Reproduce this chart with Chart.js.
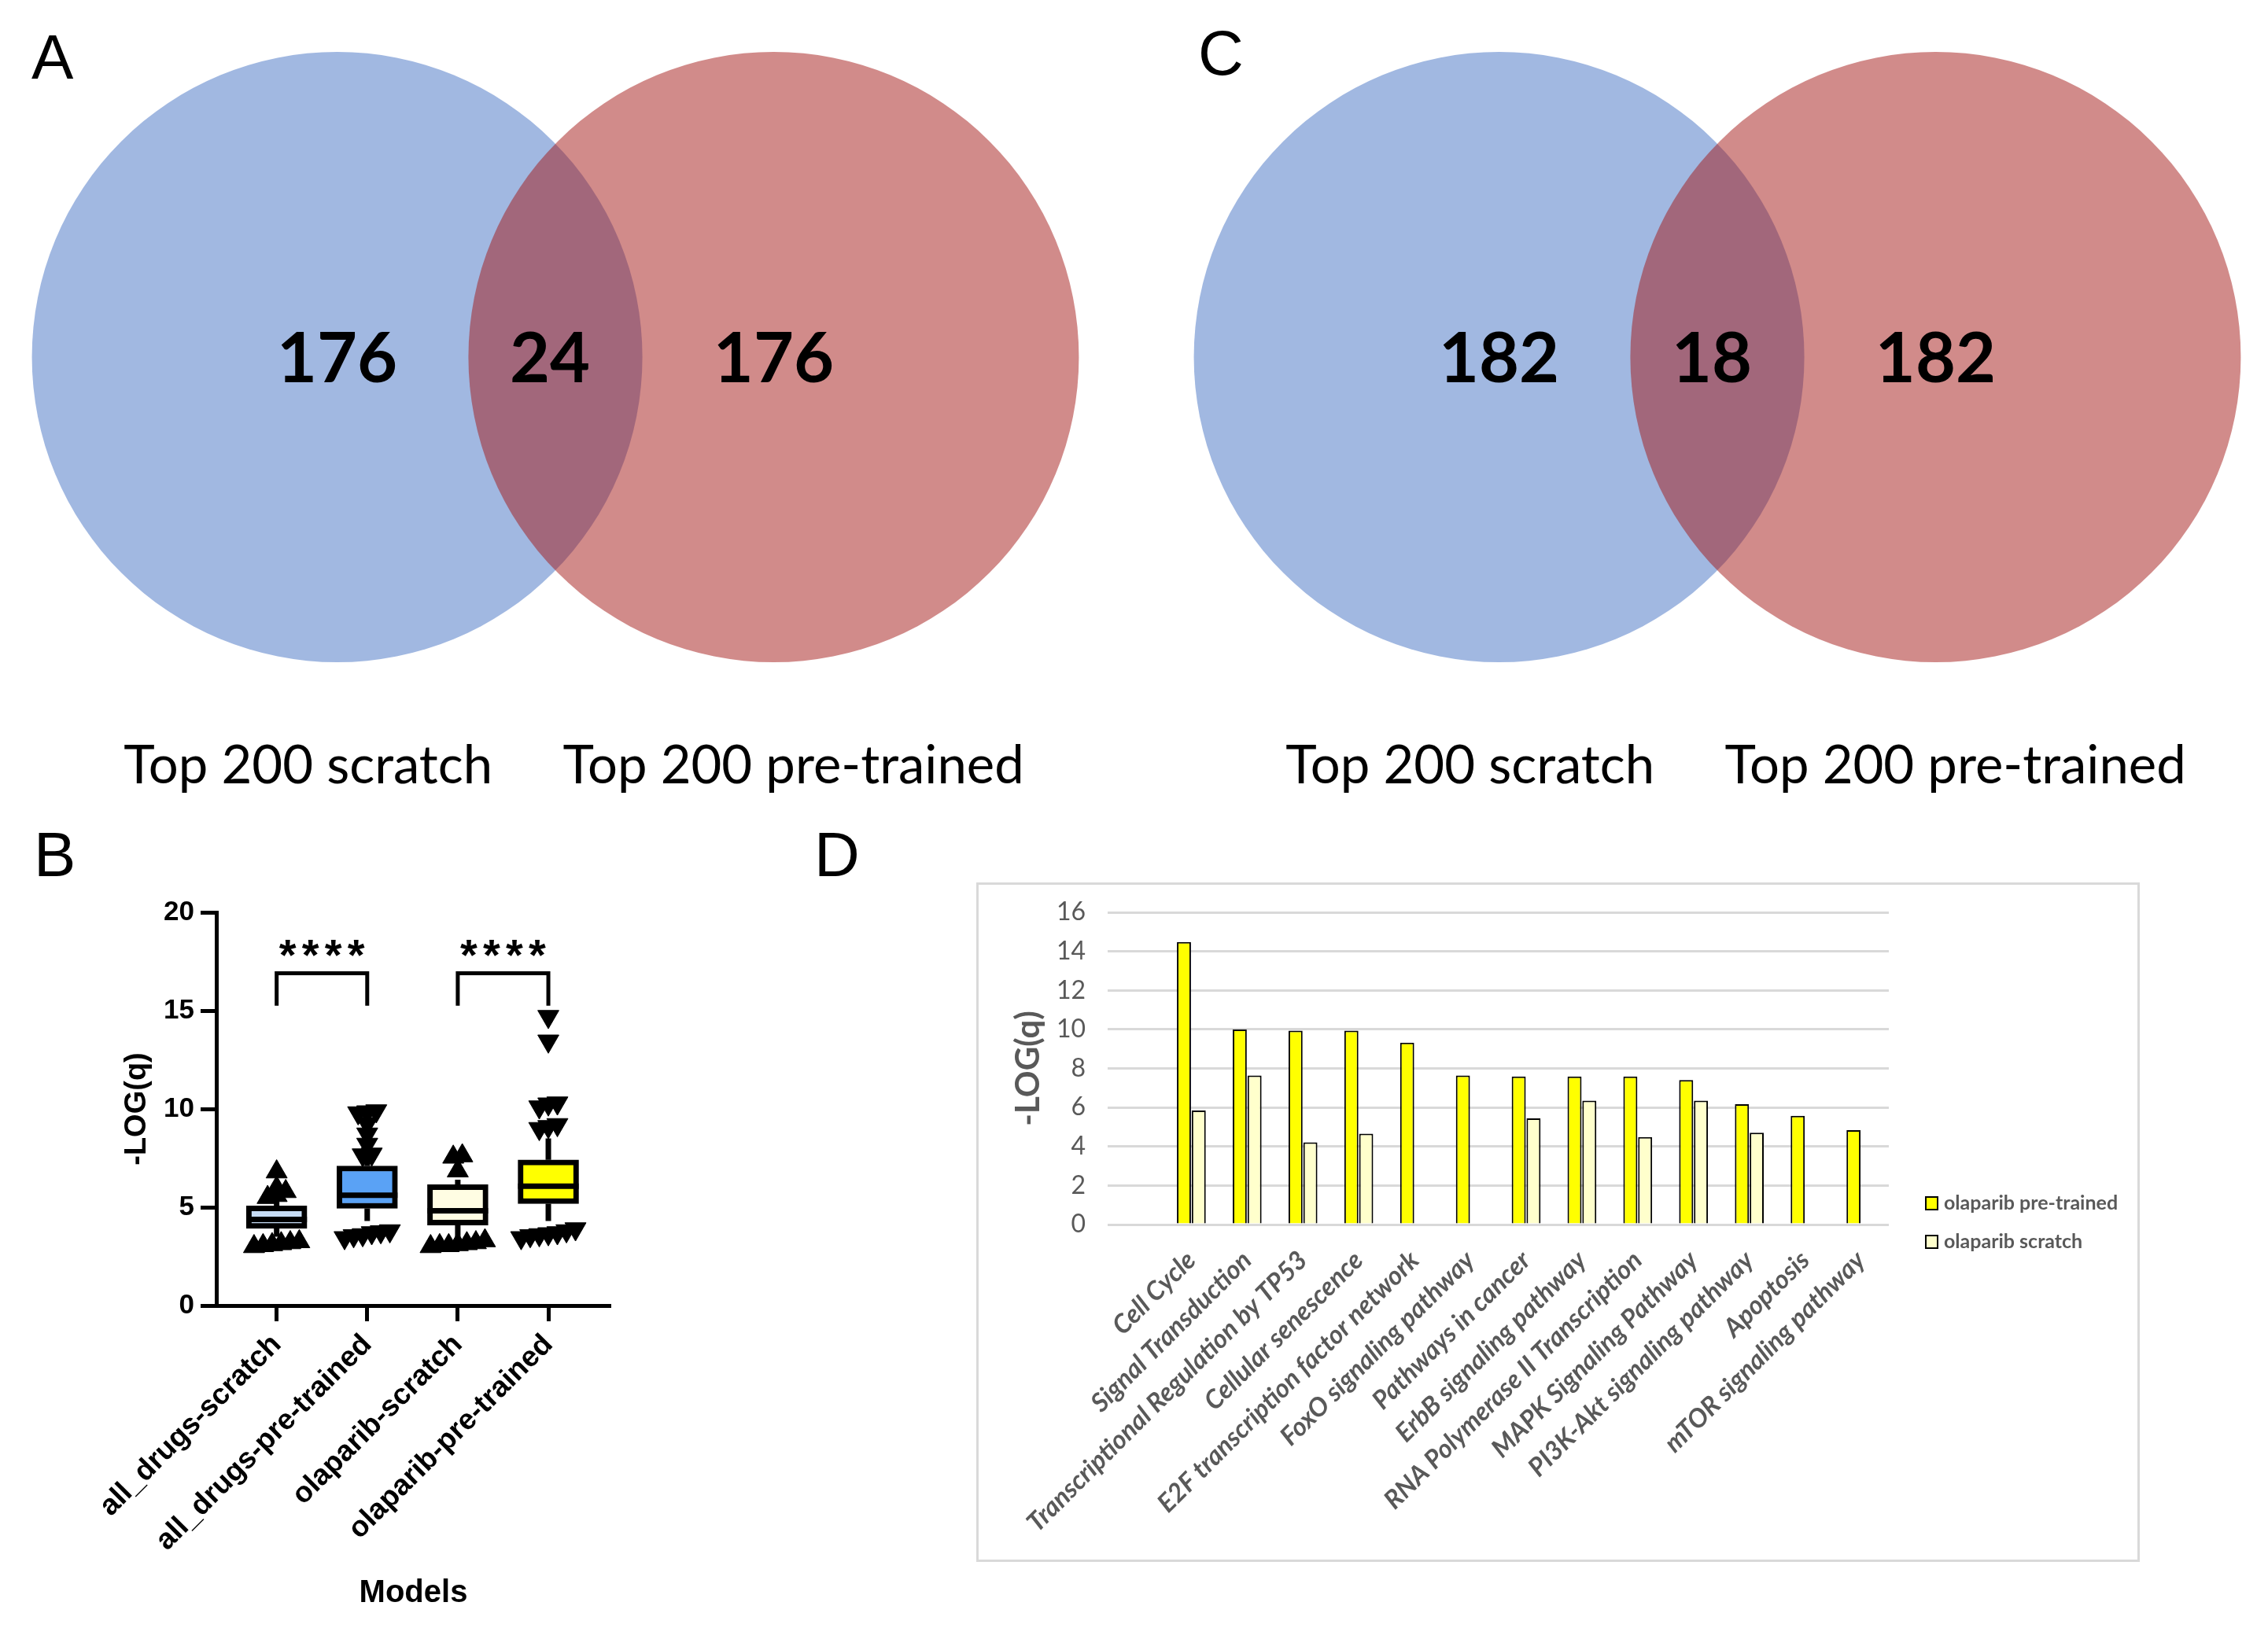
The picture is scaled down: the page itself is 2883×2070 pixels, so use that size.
<!DOCTYPE html>
<html>
<head>
<meta charset="utf-8">
<script src="https://cdn.jsdelivr.net/npm/chart.js@4.4.1/dist/chart.umd.min.js"></script>
<style>
  html, body { margin: 0; padding: 0; background: #fff; width: 2883px; height: 2070px; overflow: hidden; }
  .panel { position: absolute; }
  .tag { position: absolute; font-family: 'Liberation Sans', Arial, sans-serif; font-size: 80px; line-height: 80px; color: #000; }
  #frameD { position: absolute; left: 1241px; top: 1122px; width: 1479px; height: 864px; border: 3px solid #d9d9d9; box-sizing: border-box; }
  #frameD .inner { position: absolute; left: 0; top: 0; width: 1473px; height: 858px; }
</style>
</head>
<body>
<div class="tag" style="left:40px; top:33px">A</div>
<div class="tag" style="left:43px; top:1047px">B</div>
<div class="tag" style="left:1523px; top:28px">C</div>
<div class="tag" style="left:1035px; top:1047px">D</div>

<div class="panel" style="left:0; top:0; width:1420px; height:1060px"><canvas id="vennA"></canvas></div>
<div class="panel" style="left:1460px; top:0; width:1423px; height:1060px"><canvas id="vennC"></canvas></div>
<div class="panel" style="left:0; top:1100px; width:830px; height:970px"><canvas id="boxB"></canvas></div>
<div id="frameD"><div class="inner"><canvas id="barD"></canvas></div></div>

<script>
// ---- Venn diagrams (A, C) ----
const vennSets = ['Top 200 scratch', 'Top 200 pre-trained'];
const vennCountsA = [176, 24, 176];   // scratch only, both, pre-trained only
const vennCountsC = [182, 18, 182];
const vennCentres = [-0.715, 0.715];  // circle centres, in circle radii
const vennRadius = 1;

// ---- Box plot (B) ----
const models = ['all_drugs-scratch', 'all_drugs-pre-trained', 'olaparib-scratch', 'olaparib-pre-trained'];
const whiskerLo = [3.5, 4.3, 3.5, 4.3];
const q1 = [3.92, 4.94, 4.09, 5.18];
const medians = [4.38, 5.61, 4.82, 6.07];
const q3 = [5.07, 7.10, 6.15, 7.41];
const whiskerHi = [5.4, 7.6, 6.4, 8.5];
const outliersHigh = [
    [5.5, 5.6, 5.8, 5.98, 6.8],
    [7.66, 7.7, 8.2, 8.72, 9.25, 9.8, 9.85, 9.9],
    [6.85, 7.55, 7.62],
    [9.0, 9.1, 9.2, 10.1, 10.25, 10.3, 13.45, 14.7]
];
const outliersLow = [
    [3.0, 3.05, 3.1, 3.15, 3.2, 3.25],
    [3.45, 3.55, 3.6, 3.7, 3.75, 3.8],
    [3.0, 3.05, 3.05, 3.1, 3.15, 3.2, 3.3],
    [3.45, 3.55, 3.6, 3.65, 3.7, 3.8, 3.9]
];
const significance = [
    { pair: [0, 1], label: '****' },
    { pair: [2, 3], label: '****' }
];

// ---- Pathway bars (D) ----
const pathways = ['Cell Cycle', 'Signal Transduction', 'Transcriptional Regulation by TP53', 'Cellular senescence',
    'E2F transcription factor network', 'FoxO signaling pathway', 'Pathways in cancer', 'ErbB signaling pathway',
    'RNA Polymerase II Transcription', 'MAPK Signaling Pathway', 'PI3K-Akt signaling pathway', 'Apoptosis',
    'mTOR signaling pathway'];
const olaparibPretrained = [14.48, 9.99, 9.93, 9.93, 9.32, 7.64, 7.59, 7.59, 7.59, 7.41, 6.17, 5.57, 4.84];
const olaparibScratch = [5.84, 7.64, 4.21, 4.65, null, null, 5.44, 6.35, 4.48, 6.35, 4.71, null, null];

const boxFill = ['#c6dcf5', '#5aa2f5', '#fffde3', '#ffff00'];

// ---------- Venn ----------
const vennText = {
    id: 'vennText',
    afterDatasetsDraw(chart, args, opts) {
        const { ctx, scales: { x, y } } = chart;
        const mid = (vennCentres[0] + vennCentres[1]) / 2 - 0.018;
        const spots = [vennCentres[0], mid, vennCentres[1]];
        ctx.save();
        ctx.fillStyle = '#000';
        ctx.textAlign = 'center';
        ctx.textBaseline = 'middle';
        ctx.font = 'bold 88px Lato';
        opts.counts.forEach((c, i) => ctx.fillText(String(c), x.getPixelForValue(spots[i]), y.getPixelForValue(0) + 4));
        ctx.font = '67px Lato';
        vennSets.forEach((s, i) => ctx.fillText(s, x.getPixelForValue(opts.labelX[i]), y.getPixelForValue(-1.34)));
        ctx.restore();
    }
};

function makeVenn(id, counts, width, height, midPx) {
    const unit = 388, cy = 454;
    return new Chart(document.getElementById(id), {
        type: 'scatter',
        data: {
            datasets: [{
                data: vennCentres.map(c => ({ x: c, y: 0 })),
                backgroundColor: ['rgba(68,114,196,0.5)', 'rgba(163,23,21,0.5)'],
                borderWidth: 0,
                pointRadius: ctx => {
                    const s = ctx.chart.scales.x;
                    return s.getPixelForValue(vennRadius) - s.getPixelForValue(0);
                },
                clip: false
            }]
        },
        options: {
            responsive: true,
            maintainAspectRatio: false,
            animation: false,
            events: [],
            devicePixelRatio: 1,
            layout: { padding: 0, autoPadding: false },
            plugins: {
                legend: { display: false },
                tooltip: { enabled: false },
                vennText: { counts: counts, labelX: [-0.81, 0.78] }
            },
            scales: {
                x: { type: 'linear', display: false, min: -midPx / unit, max: (width - midPx) / unit },
                y: { type: 'linear', display: false, min: -(height - cy) / unit, max: cy / unit }
            }
        },
        plugins: [vennText]
    });
}

makeVenn('vennA', vennCountsA, 1420, 1060, 706);
makeVenn('vennC', vennCountsC, 1423, 1060, 723);

// ---------- Box plot ----------
// spread points of similar value side by side, like a GraphPad scatter
function spread(values, centre) {
    const pts = [];
    let row = [];
    const flush = () => {
        row.forEach((v, k) => pts.push({ x: centre + (k - (row.length - 1) / 2) * 0.1, y: v }));
        row = [];
    };
    values.slice().sort((a, b) => a - b).forEach(v => {
        if (row.length && v - row[0] > 0.45) flush();
        row.push(v);
    });
    flush();
    return pts;
}

const scratchPts = [], pretrainedPts = [];
models.forEach((m, i) => {
    const target = m.includes('pre-trained') ? pretrainedPts : scratchPts;
    target.push(...spread(outliersHigh[i], i), ...spread(outliersLow[i], i));
});

const boxExtras = {
    id: 'boxExtras',
    beforeDatasetsDraw(chart) {
        const { ctx, scales: { x, y } } = chart;
        ctx.save();
        ctx.strokeStyle = '#000';
        ctx.lineWidth = 7;
        models.forEach((m, i) => {
            const px = x.getPixelForValue(i);
            ctx.beginPath();
            ctx.moveTo(px, y.getPixelForValue(q3[i]));
            ctx.lineTo(px, y.getPixelForValue(whiskerHi[i]));
            ctx.moveTo(px, y.getPixelForValue(q1[i]));
            ctx.lineTo(px, y.getPixelForValue(whiskerLo[i]));
            ctx.stroke();
        });
        ctx.restore();
    },
    afterDatasetDraw(chart, args) {
        if (args.index !== 0) return;
        const { ctx, scales: { y } } = chart;
        ctx.save();
        ctx.strokeStyle = '#000';
        ctx.lineWidth = 7;
        args.meta.data.forEach((bar, i) => {
            const { x: bx, width } = bar.getProps(['x', 'width'], true);
            const py = y.getPixelForValue(medians[i]);
            ctx.beginPath();
            ctx.moveTo(bx - width / 2, py);
            ctx.lineTo(bx + width / 2, py);
            ctx.stroke();
        });
        ctx.restore();
    },
    afterDraw(chart) {
        const { ctx, scales: { x, y } } = chart;
        ctx.save();
        ctx.strokeStyle = '#000';
        ctx.fillStyle = '#000';
        ctx.lineWidth = 5;
        significance.forEach(s => {
            const x0 = x.getPixelForValue(s.pair[0]);
            const x1 = x.getPixelForValue(s.pair[1]);
            const top = y.getPixelForValue(16.9);
            const foot = y.getPixelForValue(15.25);
            ctx.beginPath();
            ctx.moveTo(x0, foot);
            ctx.lineTo(x0, top);
            ctx.lineTo(x1, top);
            ctx.lineTo(x1, foot);
            ctx.stroke();
            ctx.font = 'bold 56px "Liberation Sans", Arial';
            ctx.textAlign = 'center';
            ctx.textBaseline = 'alphabetic';
            const midX = (x0 + x1) / 2;
            const chars = s.label.split('');
            chars.forEach((c, k) => {
                ctx.fillText(c, midX + (k - (chars.length - 1) / 2) * 29, y.getPixelForValue(18.4) + 33);
            });
        });
        ctx.restore();
    }
};

const axisFont = { family: 'Liberation Sans', weight: 'bold' };

new Chart(document.getElementById('boxB'), {
    type: 'bar',
    data: {
        datasets: [
            {
                type: 'bar',
                data: models.map((m, i) => ({ x: i, y: [q1[i], q3[i]] })),
                backgroundColor: boxFill,
                borderColor: '#000',
                borderWidth: 7,
                borderSkipped: false,
                barThickness: 77,
                order: 2
            },
            {
                type: 'scatter',
                data: scratchPts,
                pointStyle: 'triangle',
                pointRadius: 15.5,
                backgroundColor: '#000',
                borderColor: '#000',
                borderWidth: 1,
                order: 1
            },
            {
                type: 'scatter',
                data: pretrainedPts,
                pointStyle: 'triangle',
                rotation: 180,
                pointRadius: 15.5,
                backgroundColor: '#000',
                borderColor: '#000',
                borderWidth: 1,
                order: 1
            }
        ]
    },
    options: {
        responsive: true,
        maintainAspectRatio: false,
        animation: false,
        events: [],
        devicePixelRatio: 1,
        layout: { padding: { top: 60, right: 54, left: 0, bottom: 0 }, autoPadding: false },
        plugins: { legend: { display: false }, tooltip: { enabled: false } },
        scales: {
            x: {
                type: 'linear',
                min: -0.666,
                max: 3.686,
                offset: false,
                afterBuildTicks: s => { s.ticks = models.map((m, i) => ({ value: i })); },
                afterFit: s => { s.height = 410; },
                ticks: {
                    callback: v => models[v],
                    autoSkip: false,
                    maxRotation: 45,
                    minRotation: 45,
                    padding: 8,
                    color: '#000',
                    font: { ...axisFont, size: 37 }
                },
                grid: { offset: false, drawOnChartArea: false, drawTicks: true, tickLength: 20, tickWidth: 5, tickColor: '#000' },
                border: { display: true, color: '#000', width: 5 },
                title: { display: true, text: 'Models', color: '#000', font: { ...axisFont, size: 40 }, padding: { top: 0, bottom: 20 } }
            },
            y: {
                min: 0,
                max: 20,
                afterFit: s => { s.width = 275; },
                ticks: { stepSize: 5, padding: 8, color: '#000', font: { ...axisFont, size: 35 } },
                grid: { drawOnChartArea: false, drawTicks: true, tickLength: 20, tickWidth: 5, tickColor: '#000' },
                border: { display: true, color: '#000', width: 5 },
                title: { display: true, text: '-LOG(q)', color: '#000', font: { ...axisFont, size: 38 }, padding: { top: 152, bottom: 0 } }
            }
        }
    },
    plugins: [boxExtras]
});

// ---------- Pathway bar chart ----------
const sideLegend = {
    id: 'sideLegend',
    afterDraw(chart, args, opts) {
        const ctx = chart.ctx;
        ctx.save();
        ctx.font = 'bold 25px Lato';
        ctx.textBaseline = 'middle';
        ctx.textAlign = 'left';
        chart.data.datasets.forEach((ds, i) => {
            const yc = opts.top + i * opts.gap;
            ctx.fillStyle = ds.backgroundColor;
            ctx.fillRect(opts.left, yc - 8, 15, 16);
            ctx.lineWidth = 2;
            ctx.strokeStyle = '#000';
            ctx.strokeRect(opts.left, yc - 8, 15, 16);
            ctx.fillStyle = '#595959';
            ctx.fillText(ds.label, opts.left + 23, yc);
        });
        ctx.restore();
    }
};

new Chart(document.getElementById('barD'), {
    type: 'bar',
    data: {
        labels: [''].concat(pathways),
        datasets: [
            {
                label: 'olaparib pre-trained',
                data: [null].concat(olaparibPretrained),
                backgroundColor: '#ffff00',
                borderColor: '#000',
                borderWidth: 2
            },
            {
                label: 'olaparib scratch',
                data: [null].concat(olaparibScratch),
                backgroundColor: '#ffffcc',
                borderColor: '#000',
                borderWidth: 2
            }
        ]
    },
    options: {
        responsive: true,
        maintainAspectRatio: false,
        animation: false,
        events: [],
        devicePixelRatio: 1,
        datasets: { bar: { categoryPercentage: 0.53, barPercentage: 0.95 } },
        layout: { padding: { top: 35, right: 316, left: 0, bottom: 0 }, autoPadding: false },
        plugins: {
            legend: { display: false },
            tooltip: { enabled: false },
            sideLegend: { left: 1204, top: 405, gap: 49 }
        },
        scales: {
            x: {
                afterFit: s => { s.height = 426; },
                grid: { display: false, drawTicks: false },
                border: { display: false },
                ticks: {
                    autoSkip: false,
                    maxRotation: 45,
                    minRotation: 45,
                    padding: 26,
                    color: '#595959',
                    font: { family: 'Lato', size: 33, style: 'italic', weight: 'bold' }
                }
            },
            y: {
                min: 0,
                max: 16,
                afterFit: s => { s.width = 164; s.paddingTop = 0; s.paddingBottom = 0; },
                ticks: { stepSize: 2, padding: 28, color: '#595959', font: { family: 'Lato', size: 32 } },
                grid: { color: '#d9d9d9', lineWidth: 3, drawTicks: false },
                border: { display: false },
                title: { display: true, text: '-LOG(q)', color: '#595959', font: { family: 'Lato', size: 42, weight: 'bold' }, padding: { top: 38, bottom: 0 } }
            }
        }
    },
    plugins: [sideLegend]
});
</script>
</body>
</html>
